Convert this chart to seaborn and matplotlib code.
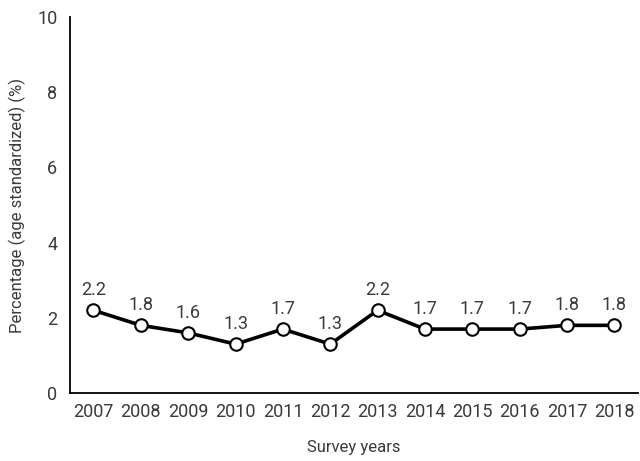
import matplotlib
matplotlib.use("Agg")
import matplotlib.pyplot as plt
import seaborn as sns
import numpy as np
import pandas as pd

years = ["2007", "2008", "2009", "2010", "2011", "2012", "2013", "2014", "2015", "2016", "2017", "2018"]
values = [2.2, 1.8, 1.6, 1.3, 1.7, 1.3, 2.2, 1.7, 1.7, 1.7, 1.8, 1.8]

sns.set_style("white")
plt.rcParams['font.family'] = ['Roboto', 'DejaVu Sans']
txt = '#3a3a3a'

df = pd.DataFrame({"pos": np.arange(len(years)), "value": values})

fig = plt.figure(figsize=(6.4, 4.61), dpi=100)
ax = fig.add_axes([0.109, 0.1475, 0.888, 0.8155])
sns.lineplot(data=df, x="pos", y="value", ax=ax, color="black", linewidth=2.6,
             marker="o", markersize=9, markerfacecolor="white",
             markeredgecolor="black", markeredgewidth=1.5)

for x, v in zip(df["pos"], values):
    ax.annotate(f"{v:.1f}", (x, v), xytext=(0, 8), textcoords="offset points",
                ha="center", va="bottom", fontsize=13, color=txt)

ax.set_xlim(-0.5, len(years) - 0.5)
ax.set_ylim(0, 10)
ax.set_yticks([0, 2, 4, 6, 8, 10])
ax.set_xticks(np.arange(len(years)) + 0.5)
ax.set_xticklabels([])
ax.set_xticks(np.arange(len(years)), minor=True)
ax.set_xticklabels(years, minor=True)
ax.tick_params(axis="x", which="major", direction="in", length=4, width=1.2, color="black")
ax.tick_params(axis="x", which="minor", length=0, labelsize=13, labelcolor=txt, pad=7)
ax.tick_params(axis="y", direction="in", length=4, width=1.2, color="black", labelsize=13, labelcolor=txt, pad=9)

for s in ["top", "right"]:
    ax.spines[s].set_visible(False)
for s in ["left", "bottom"]:
    ax.spines[s].set_color("black")
    ax.spines[s].set_linewidth(1.3)

ax.set_xlabel("Survey years", fontsize=12, color=txt, labelpad=14)
ax.set_ylabel("Percentage (age standardized) (%)", fontsize=12, color=txt, labelpad=8)

fig.savefig("out.png", dpi=100)
